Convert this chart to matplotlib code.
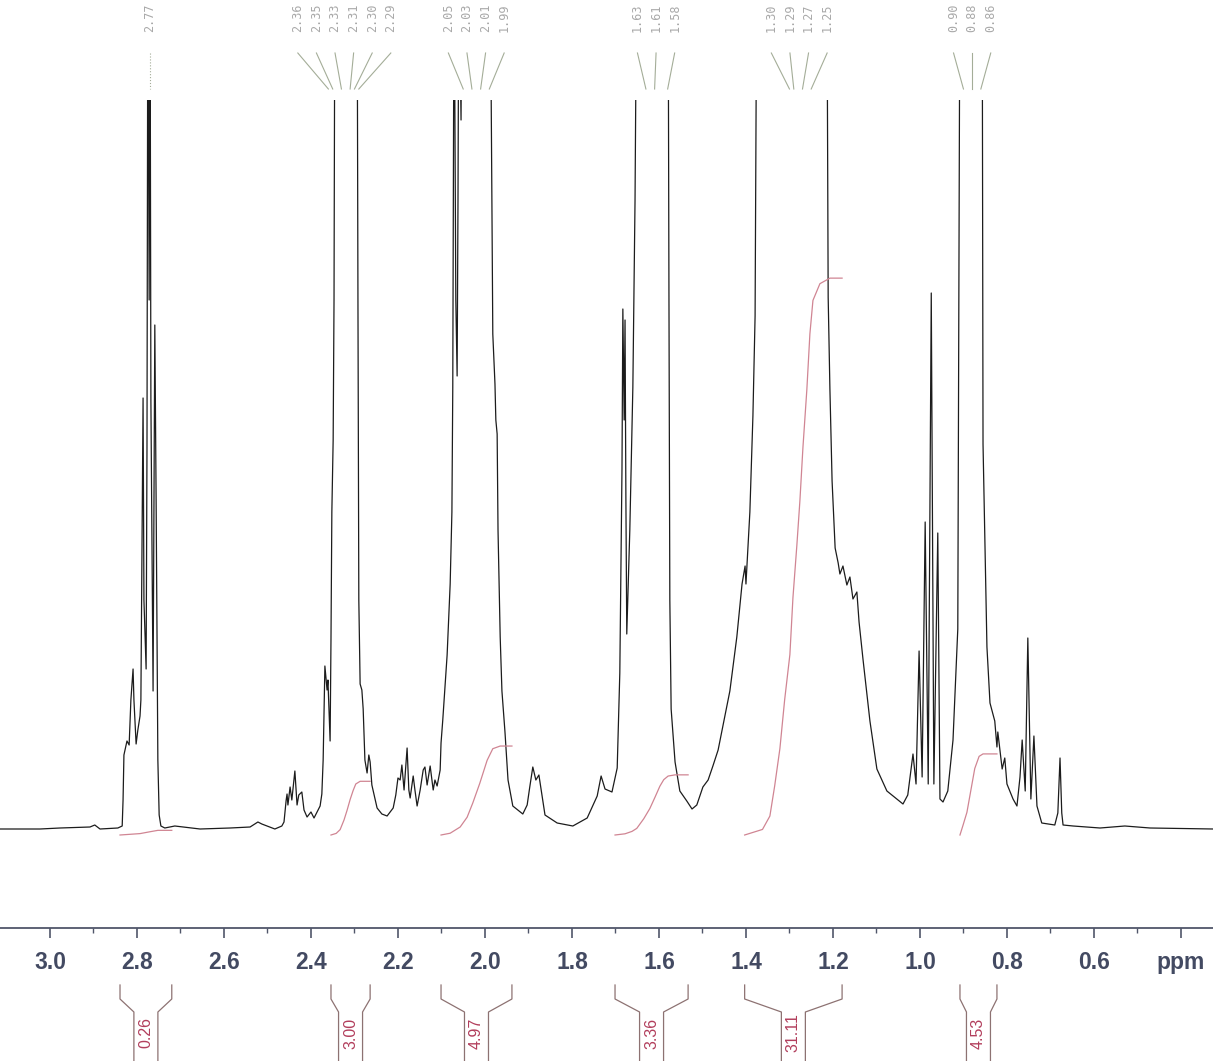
import numpy as np
import matplotlib.pyplot as plt

# 1H NMR trace: chemical shift (ppm) and intensity (arb. units, 728 = top of plot)
spec_ppm = [3.115, 3.023, 2.977, 2.908, 2.897, 2.885, 2.844, 2.834, 2.832, 2.830,
            2.823, 2.818, 2.814, 2.809, 2.807, 2.802, 2.798, 2.793, 2.791, 2.786,
            2.784, 2.779, 2.777, 2.775, 2.772, 2.770, 2.768, 2.763, 2.761, 2.759,
            2.756, 2.752, 2.749, 2.745, 2.736, 2.713, 2.655, 2.586, 2.540, 2.522,
            2.513, 2.483, 2.467, 2.462, 2.457, 2.455, 2.453, 2.448, 2.444, 2.437,
            2.432, 2.428, 2.421, 2.416, 2.409, 2.400, 2.393, 2.386, 2.379, 2.375,
            2.372, 2.368, 2.363, 2.361, 2.356, 2.354, 2.352, 2.349, 2.347, 2.345,
            2.320, 2.294, 2.292, 2.290, 2.287, 2.283, 2.280, 2.276, 2.271, 2.267,
            2.264, 2.260, 2.248, 2.237, 2.225, 2.211, 2.205, 2.200, 2.195, 2.191,
            2.186, 2.179, 2.175, 2.172, 2.165, 2.161, 2.156, 2.149, 2.142, 2.138,
            2.133, 2.126, 2.119, 2.115, 2.110, 2.103, 2.101, 2.097, 2.087, 2.080,
            2.076, 2.074, 2.071, 2.067, 2.064, 2.062, 2.060, 2.055, 2.053, 2.046,
            2.018, 1.988, 1.984, 1.982, 1.977, 1.975, 1.972, 1.970, 1.965, 1.961,
            1.954, 1.947, 1.936, 1.913, 1.903, 1.897, 1.890, 1.883, 1.876, 1.869,
            1.862, 1.834, 1.798, 1.765, 1.742, 1.733, 1.724, 1.708, 1.696, 1.690,
            1.685, 1.683, 1.680, 1.678, 1.676, 1.674, 1.667, 1.660, 1.655, 1.651,
            1.616, 1.579, 1.577, 1.575, 1.572, 1.563, 1.552, 1.536, 1.524, 1.513,
            1.499, 1.487, 1.476, 1.464, 1.453, 1.437, 1.421, 1.409, 1.402, 1.400,
            1.391, 1.384, 1.379, 1.375, 1.299, 1.214, 1.211, 1.207, 1.202, 1.195,
            1.188, 1.184, 1.177, 1.168, 1.161, 1.154, 1.145, 1.140, 1.131, 1.115,
            1.099, 1.076, 1.053, 1.039, 1.028, 1.016, 1.009, 1.002, 0.995, 0.988,
            0.981, 0.974, 0.968, 0.959, 0.954, 0.947, 0.936, 0.924, 0.913, 0.908,
            0.883, 0.857, 0.855, 0.850, 0.846, 0.839, 0.828, 0.823, 0.821, 0.811,
            0.805, 0.800, 0.786, 0.777, 0.770, 0.765, 0.758, 0.752, 0.745, 0.738,
            0.731, 0.720, 0.690, 0.683, 0.678, 0.674, 0.671, 0.648, 0.586, 0.529,
            0.471, 0.326]
spec_int = [-1, -1, 0, 1, 3, -1, 0, 2, 28, 73,
            87, 83, 128, 159, 128, 84, 98, 112, 128, 430,
            228, 159, 378, 878, 528, 878, 428, 137, 328, 503,
            328, 68, 13, 2, 0, 2, -1, 0, 1, 6,
            4, -1, 2, 6, 28, 34, 23, 41, 28, 57,
            23, 33, 36, 18, 11, 16, 10, 16, 22, 34,
            68, 162, 138, 148, 87, 188, 316, 388, 528, 878,
            978, 878, 528, 228, 144, 138, 119, 68, 55, 73,
            66, 43, 20, 14, 12, 20, 33, 50, 48, 63,
            38, 80, 38, 30, 52, 38, 22, 38, 58, 61,
            43, 62, 38, 48, 42, 58, 85, 108, 173, 244,
            316, 441, 878, 528, 452, 628, 878, 708, 878, 878,
            978, 878, 628, 494, 444, 408, 394, 298, 191, 137,
            96, 48, 22, 14, 23, 41, 61, 48, 53, 33,
            13, 5, 2, 10, 32, 52, 39, 36, 60, 155,
            359, 519, 408, 508, 328, 194, 298, 441, 628, 878,
            978, 878, 528, 228, 119, 66, 37, 27, 19, 23,
            41, 48, 62, 78, 102, 137, 191, 244, 262, 244,
            316, 412, 512, 878, 978, 878, 531, 439, 347, 280,
            265, 254, 262, 243, 251, 229, 236, 206, 169, 107,
            59, 37, 29, 24, 33, 74, 44, 177, 51, 306,
            44, 535, 44, 295, 29, 26, 37, 88, 199, 878,
            978, 878, 384, 273, 181, 125, 107, 81, 96, 59,
            70, 44, 29, 22, 51, 88, 37, 190, 29, 92,
            22, 5, 3, 15, 70, 15, 3, 2, 0, 2,
            0, -1]

# integrals: values printed under the axis and traced progress of each integral curve
int_values = [0.26, 3.00, 4.97, 3.36, 31.11, 4.53]
int_ppm = [[2.839, 2.793, 2.770, 2.752, 2.720],
           [2.354, 2.342, 2.333, 2.324, 2.317, 2.310, 2.303, 2.297, 2.287, 2.264],
           [2.101, 2.080, 2.057, 2.041, 2.028, 2.012, 1.995, 1.982, 1.965, 1.938],
           [1.701, 1.678, 1.662, 1.651, 1.635, 1.621, 1.609, 1.598, 1.589, 1.579,
            1.563, 1.533],
           [1.403, 1.362, 1.345, 1.334, 1.322, 1.311, 1.299, 1.292, 1.283, 1.276,
            1.269, 1.260, 1.253, 1.246, 1.230, 1.207, 1.179],
           [0.908, 0.901, 0.892, 0.883, 0.874, 0.864, 0.855, 0.823]]
int_frac = [[0, 0.3, 0.7, 1.0, 1.0],
            [0, 0.03, 0.10, 0.28, 0.46, 0.66, 0.83, 0.95, 1.0, 1.0],
            [0, 0.02, 0.09, 0.20, 0.36, 0.58, 0.84, 0.97, 1.0, 1.0],
            [0, 0.02, 0.06, 0.11, 0.27, 0.44, 0.63, 0.81, 0.92, 0.98, 1.0, 1.0],
            [0, 0.01, 0.034, 0.088, 0.155, 0.243, 0.324, 0.426, 0.52, 0.60,
             0.696, 0.80, 0.90, 0.96, 0.99, 1.0, 1.0],
            [0, 0.12, 0.28, 0.55, 0.82, 0.97, 1.0, 1.0]]

# peak-pick labels along the top
peak_groups = [["2.77"],
               ["2.36", "2.35", "2.33", "2.31", "2.30", "2.29"],
               ["2.05", "2.03", "2.01", "1.99"],
               ["1.63", "1.61", "1.58"],
               ["1.30", "1.29", "1.27", "1.25"],
               ["0.90", "0.88", "0.86"]]

major_ticks = [3.0, 2.8, 2.6, 2.4, 2.2, 2.0, 1.8, 1.6, 1.4, 1.2, 1.0, 0.8, 0.6, 0.4]
minor_ticks = [2.9, 2.7, 2.5, 2.3, 2.1, 1.9, 1.7, 1.5, 1.3, 1.1, 0.9, 0.7, 0.5]

H = 1061.0
XL = (3.1149, 0.3263)
PX = 435.0  # pixels per ppm

fig = plt.figure(figsize=(12.13, 10.61), dpi=100)

# spectrum
ax = fig.add_axes([0, 1 - 928 / H, 1, 828 / H])
ax.plot(spec_ppm, spec_int, color='#1c1c1c', lw=0.9)
for val, pp, fr in zip(int_values, int_ppm, int_frac):
    ax.plot(pp, -7 + np.array(fr) * val * 17.9, color='#d08593', lw=0.9)
ax.set_xlim(*XL)
ax.set_ylim(-100, 728)
for s in ['top', 'left', 'right']:
    ax.spines[s].set_visible(False)
ax.spines['bottom'].set_color('#50566a')
ax.spines['bottom'].set_linewidth(1.3)
ax.set_yticks([])
ax.set_xticks(major_ticks)
ax.set_xticklabels([f'{t:.1f}' for t in major_ticks[:-1]] + ['ppm'],
                   fontfamily='Liberation Sans', fontweight='bold',
                   fontsize=16.5, color='#434a62')
ax.set_xticks(minor_ticks, minor=True)
ax.tick_params(axis='x', which='major', length=7.5, width=1.2,
               color='#50566a', pad=9)
ax.tick_params(axis='x', which='minor', length=3.5, width=1.0, color='#50566a')

# peak labels
ax_top = fig.add_axes([0, 1 - 100 / H, 1, 100 / H])
ax_top.set_xlim(*XL)
ax_top.set_ylim(100, 0)
ax_top.axis('off')
sp = 18.6 / PX
for grp in peak_groups:
    vals = [float(v) for v in grp]
    c = np.mean(vals)
    n = len(grp)
    for i, (lab, v) in enumerate(zip(grp, vals)):
        xp = c + ((n - 1) / 2 - i) * sp
        ax_top.text(xp, 3, lab, rotation=90, ha='center', va='top',
                    fontsize=8.5, family='DejaVu Sans Mono', color='#a8a8a8')
        ax_top.plot([xp, v], [53, 89], color='#a4ad98', lw=0.8,
                    ls=':' if n == 1 else '-')

# integral brackets and values
ax_bot = fig.add_axes([0, 0, 1, 90 / H])
ax_bot.set_xlim(*XL)
ax_bot.set_ylim(1061, 971)
ax_bot.axis('off')
d = 12 / PX
for val, pp in zip(int_values, int_ppm):
    lo, hi = pp[0], pp[-1]
    c = (lo + hi) / 2
    ax_bot.plot([lo, lo, c + d, c + d], [985, 999, 1012, 1061], color='#8d7272', lw=0.9)
    ax_bot.plot([hi, hi, c - d, c - d], [985, 999, 1012, 1061], color='#8d7272', lw=0.9)
    ax_bot.text(c, 1033, f'{val:.2f}', rotation=90, ha='center', va='center',
                fontsize=11.5, family='Liberation Sans', color='#b23e5c')

fig.savefig('out.png', dpi=100)
